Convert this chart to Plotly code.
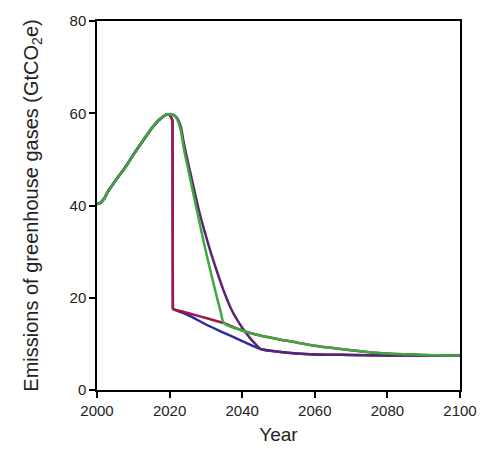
import plotly.graph_objects as go

# Historical emissions (shared by all scenarios)
hist_years = [2000, 2001, 2002, 2003, 2005, 2008, 2010, 2013, 2015, 2017, 2019, 2020]
hist_vals = [40.3, 40.6, 41.5, 43.0, 45.3, 48.5, 51.0, 54.5, 56.7, 58.5, 59.7, 59.8]

# Immediate drop
drop_years = [2020.8, 2020.9]
drop_vals = [58.5, 17.5]

# Lower tail (fast decline after immediate drop)
low_years = [2020.9, 2022, 2025, 2030, 2035, 2040, 2045, 2050, 2055, 2060, 2070, 2080, 2090, 2100]
low_vals = [17.5, 17.2, 16.3, 14.2, 12.4, 10.6, 8.9, 8.3, 7.9, 7.7, 7.6, 7.5, 7.5, 7.5]

# Upper tail (slower decline after immediate drop)
up_years = [2020.9, 2022, 2025, 2030, 2035, 2040, 2045, 2050, 2055, 2060, 2065, 2070, 2075, 2080, 2090, 2100]
up_vals = [17.5, 17.3, 16.7, 15.6, 14.5, 12.9, 11.8, 11.0, 10.3, 9.6, 9.1, 8.6, 8.2, 7.9, 7.6, 7.5]

# Delayed action, converging to upper tail (green)
dg_years = [2020, 2021, 2022, 2023, 2024, 2025, 2026, 2027, 2028, 2029, 2030, 2031, 2032, 2033, 2034, 2035]
dg_vals = [59.8, 59.6, 58.8, 56.5, 52.0, 48.3, 44.6, 40.8, 37.2, 33.5, 30.0, 26.7, 23.4, 20.2, 17.2, 14.5]

# Delayed action, converging to lower tail (purple)
dp_years = [2020, 2021, 2022, 2023, 2024, 2025, 2026, 2027, 2028, 2029, 2030, 2031, 2032, 2033, 2034,
            2035, 2036, 2037, 2038, 2039, 2040, 2041, 2042, 2043, 2044, 2045]
dp_vals = [59.8, 59.7, 59.0, 57.3, 53.2, 49.6, 46.1, 42.6, 39.2, 36.2, 33.4, 30.7, 28.2, 25.8, 23.5,
           21.3, 19.3, 17.5, 16.0, 14.7, 13.5, 12.4, 11.4, 10.5, 9.7, 8.9]

tick_years = [2000, 2020, 2040, 2060, 2080, 2100]
tick_vals_y = [0, 20, 40, 60, 80]

BLUE = "#2a2a9c"
RED = "#a0184a"
PURPLE = "#5c2470"
GREEN = "#3ea83e"
W = 2.5


def tail_after(years, vals, start):
    return [y for y in years if y > start], [v for y, v in zip(years, vals) if y > start]


fig = go.Figure()


def add(x, y, color, shape="linear"):
    fig.add_trace(go.Scatter(x=x, y=y, mode="lines",
                             line=dict(color=color, width=W, shape=shape, smoothing=0.8)))


# Blue: immediate drop, fast decline
add(hist_years + drop_years, hist_vals + drop_vals, BLUE)
add(low_years, low_vals, BLUE, "spline")

# Red: immediate drop, slow decline
add(hist_years + drop_years, hist_vals + drop_vals, RED)
add(up_years, up_vals, RED, "spline")

# Purple: delayed, to lower tail
tx, tv = tail_after(low_years, low_vals, 2045)
add(hist_years + dp_years[1:] + tx, hist_vals + dp_vals[1:] + tv, PURPLE, "spline")

# Green: delayed, to upper tail
ux, uv = tail_after(up_years, up_vals, 2035)
add(hist_years + dg_years[1:] + ux, hist_vals + dg_vals[1:] + uv, GREEN, "spline")

font_family = "Liberation Sans, Arial, sans-serif"

fig.update_layout(
    width=489, height=462,
    margin=dict(l=97, r=18, t=16, b=72),
    paper_bgcolor="white", plot_bgcolor="white",
    showlegend=False,
    font=dict(family=font_family, color="#222", size=15),
    xaxis=dict(
        range=[2000, 2100], tickvals=tick_years, ticktext=[str(t) for t in tick_years],
        showline=True, linecolor="black", linewidth=1.5, mirror=True,
        ticks="outside", ticklen=6, tickcolor="black", tickwidth=1.5,
        showgrid=False, zeroline=False,
        title=dict(text="Year", font=dict(size=19), standoff=10),
        tickfont=dict(size=15),
    ),
    yaxis=dict(
        range=[0, 80], tickvals=tick_vals_y,
        showline=True, linecolor="black", linewidth=1.5, mirror=True,
        ticks="outside", ticklen=6, tickcolor="black", tickwidth=1.5,
        showgrid=False, zeroline=False,
        title=dict(text="Emissions of greenhouse gases (GtCO<sub>2</sub>e)", font=dict(size=20), standoff=26),
        tickfont=dict(size=15),
    ),
)

fig.write_html("out.html")
